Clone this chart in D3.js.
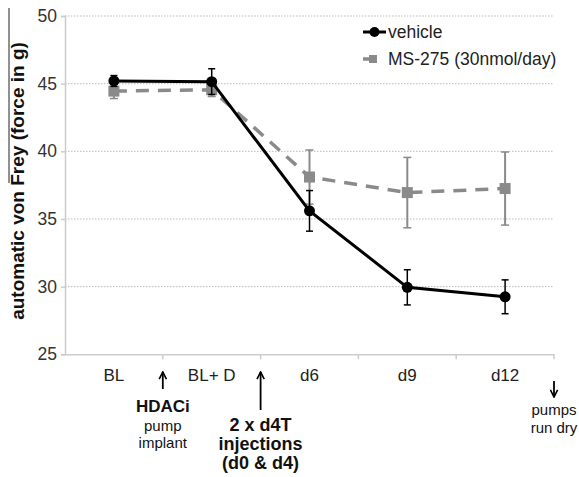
<!DOCTYPE html>
<html>
<head>
<meta charset="utf-8">
<script src="https://cdn.jsdelivr.net/npm/d3@7"></script>
<style>
  body { margin: 0; background: #fff; }
  svg { font-family: "Liberation Sans", Arial, sans-serif; }
</style>
</head>
<body>
<div id="chart"></div>
<script>
var categories = ["BL", "BL+ D", "d6", "d9", "d12"];
var vehicle = [45.2, 45.15, 35.6, 29.95, 29.25];
var vehicleErr = [0.4, 0.95, 1.5, 1.3, 1.25];
var ms275 = [44.45, 44.55, 38.1, 36.95, 37.25];
var ms275Err = [0.55, 0.5, 2.0, 2.6, 2.7];
var yTicks = [25, 30, 35, 40, 45, 50];

var width = 579, height = 477;
var margin = { top: 16, right: 25, bottom: 123, left: 65 };

var svg = d3.select("#chart").append("svg")
  .attr("width", width)
  .attr("height", height);

var x = d3.scaleBand()
  .domain(categories)
  .range([margin.left, width - margin.right]);

var y = d3.scaleLinear()
  .domain([25, 50])
  .range([height - margin.bottom + 0.3, margin.top]);

// gridlines
svg.append("g")
  .selectAll("line")
  .data(yTicks.slice(1))
  .enter().append("line")
  .attr("x1", margin.left)
  .attr("x2", width - margin.right)
  .attr("y1", d => y(d))
  .attr("y2", d => y(d))
  .attr("stroke", "#bbb")
  .attr("stroke-width", 1)
  .attr("stroke-dasharray", "1.5 1.5");

// y axis
var yAxis = svg.append("g")
  .attr("transform", "translate(" + margin.left + ",0)")
  .call(d3.axisLeft(y).tickValues(yTicks).tickSize(4).tickPadding(4));
yAxis.select(".domain").attr("stroke", "#ccc").attr("stroke-width", 1.5);
yAxis.selectAll(".tick line").attr("stroke", "#ccc").attr("stroke-width", 1.5);
yAxis.selectAll("text")
  .style("font-size", "17.5px")
  .attr("fill", "#333");

// x axis
var xAxis = svg.append("g")
  .attr("transform", "translate(0," + y(25) + ")")
  .call(d3.axisBottom(x).tickSize(0).tickPadding(15));
xAxis.select(".domain").attr("stroke", "#ccc").attr("stroke-width", 1.5);
xAxis.selectAll("text")
  .style("font-size", "17px")
  .attr("fill", "#222");

// tick marks between categories
var edges = categories.map(c => x(c) + x.bandwidth());
svg.append("g")
  .selectAll("line")
  .data(edges)
  .enter().append("line")
  .attr("x1", d => d).attr("x2", d => d)
  .attr("y1", y(25)).attr("y2", y(25) + 5)
  .attr("stroke", "#ccc")
  .attr("stroke-width", 1.5);

var cx = function(i) { return x(categories[i]) + x.bandwidth() / 2; };

// y title
svg.append("text")
  .attr("transform", "translate(24," + 181 + ") rotate(-90)")
  .attr("text-anchor", "middle")
  .style("font-size", "19px")
  .style("font-weight", "bold")
  .attr("fill", "#111")
  .text("automatic von Frey (force in g)");

svg.append("line")
  .attr("x1", 9).attr("x2", 9)
  .attr("y1", 8).attr("y2", 183)
  .attr("stroke", "#222")
  .attr("stroke-width", 1);

// MS-275 series
var line = d3.line()
  .x((d, i) => cx(i))
  .y(d => y(d));

var gray = "#8a8a8a";

svg.append("path")
  .datum(ms275)
  .attr("d", line)
  .attr("fill", "none")
  .attr("stroke", gray)
  .attr("stroke-width", 3.5)
  .attr("stroke-dasharray", "13 9");

var msErr = svg.append("g");
ms275.forEach(function(v, i) {
  var e = ms275Err[i];
  msErr.append("line")
    .attr("x1", cx(i)).attr("x2", cx(i))
    .attr("y1", y(v - e)).attr("y2", y(v + e))
    .attr("stroke", gray).attr("stroke-width", 2);
  [v - e, v + e].forEach(function(w) {
    msErr.append("line")
      .attr("x1", cx(i) - 4).attr("x2", cx(i) + 4)
      .attr("y1", y(w)).attr("y2", y(w))
      .attr("stroke", gray).attr("stroke-width", 1.5);
  });
});

svg.append("g")
  .selectAll("rect")
  .data(ms275)
  .enter().append("rect")
  .attr("x", (d, i) => cx(i) - 5.5)
  .attr("y", d => y(d) - 5.5)
  .attr("width", 11)
  .attr("height", 11)
  .attr("fill", gray);

// vehicle series
svg.append("path")
  .datum(vehicle)
  .attr("d", line)
  .attr("fill", "none")
  .attr("stroke", "#000")
  .attr("stroke-width", 3);

var vErr = svg.append("g");
vehicle.forEach(function(v, i) {
  var e = vehicleErr[i];
  vErr.append("line")
    .attr("x1", cx(i)).attr("x2", cx(i))
    .attr("y1", y(v - e)).attr("y2", y(v + e))
    .attr("stroke", "#000").attr("stroke-width", 1.5);
  [v - e, v + e].forEach(function(w) {
    vErr.append("line")
      .attr("x1", cx(i) - 3.5).attr("x2", cx(i) + 3.5)
      .attr("y1", y(w)).attr("y2", y(w))
      .attr("stroke", "#000").attr("stroke-width", 1.5);
  });
});

svg.append("g")
  .selectAll("circle")
  .data(vehicle)
  .enter().append("circle")
  .attr("cx", (d, i) => cx(i))
  .attr("cy", d => y(d))
  .attr("r", 5.5)
  .attr("fill", "#000");

// legend
var lg = svg.append("g").attr("transform", "translate(363,32)");
lg.append("line").attr("x1", 0).attr("x2", 23).attr("y1", 0).attr("y2", 0)
  .attr("stroke", "#000").attr("stroke-width", 3);
lg.append("circle").attr("cx", 11.5).attr("cy", 0).attr("r", 5).attr("fill", "#000");
lg.append("text").attr("x", 25).attr("y", 6).style("font-size", "17.5px").attr("fill", "#222").text("vehicle");
lg.append("line").attr("x1", 0).attr("x2", 6).attr("y1", 27).attr("y2", 27)
  .attr("stroke", gray).attr("stroke-width", 3.5);
lg.append("rect").attr("x", 6).attr("y", 23).attr("width", 8).attr("height", 8).attr("fill", gray);
lg.append("text").attr("x", 25).attr("y", 33).style("font-size", "17.5px").attr("fill", "#222").text("MS-275 (30nmol/day)");

// annotations
svg.append("defs").append("marker")
  .attr("id", "ah")
  .attr("viewBox", "0 0 10 10")
  .attr("refX", 9).attr("refY", 5)
  .attr("markerWidth", 5).attr("markerHeight", 5)
  .attr("orient", "auto")
  .append("path")
  .attr("d", "M1,1 L9,5 L1,9")
  .attr("fill", "none")
  .attr("stroke", "#000")
  .attr("stroke-width", 1.8);

function arrow(xp, y1, y2) {
  svg.append("line")
    .attr("x1", xp).attr("x2", xp)
    .attr("y1", y1).attr("y2", y2)
    .attr("stroke", "#000").attr("stroke-width", 1.8)
    .attr("marker-end", "url(#ah)");
}

var e0 = edges[0], e1 = edges[1], e4 = edges[4];
arrow(e0, 389, 372);
arrow(e1, 410, 372);
arrow(e4, 381, 397);

function label(xp, yp, txt, size, bold) {
  svg.append("text")
    .attr("x", xp).attr("y", yp)
    .attr("text-anchor", "middle")
    .style("font-size", size + "px")
    .style("font-weight", bold ? "bold" : "normal")
    .attr("fill", "#111")
    .text(txt);
}

label(e0, 412, "HDACi", 17, true);
label(e0, 431, "pump", 15, false);
label(e0, 448, "implant", 15, false);
label(e1, 431, "2 x d4T", 18, true);
label(e1, 450, "injections", 18, true);
label(e1, 469, "(d0 & d4)", 18, true);
label(e4, 415, "pumps", 15, false);
label(e4, 433, "run dry", 15, false);
</script>
</body>
</html>
